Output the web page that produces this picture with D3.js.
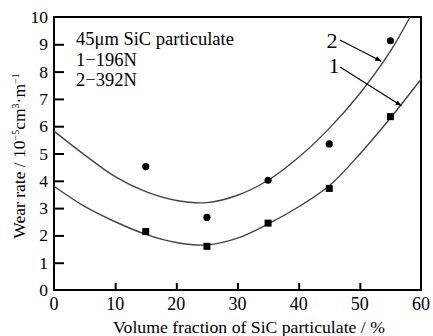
<html>
<head>
<script src="https://d3js.org/d3.v7.min.js"></script>
<style>
body { margin: 0; background: #fff; }
text { font-family: 'Liberation Serif', 'Times New Roman', serif; fill: #000; }
</style>
</head>
<body>
<div id="plot"></div>
<script>
var width = 433, height = 336;

// measured points (x = vol. fraction %, y = wear rate)
var pointX = [15, 25, 35, 45, 55];
var wear196 = [2.14, 1.6, 2.45, 3.72, 6.35];   // curve 1, squares
var wear392 = [4.52, 2.66, 4.02, 5.35, 9.13];  // curve 2, circles

// fitted curves
var fit1X = [0, 5, 10, 15, 20, 25, 30, 35, 40, 45, 50, 55, 60];
var fit1Y = [3.8, 3.06, 2.5, 2.04, 1.74, 1.65, 1.9, 2.42, 3.05, 3.82, 4.98, 6.3, 7.72];
var fit2X = [0, 5, 10, 15, 20, 25, 30, 35, 40, 45, 50, 55, 58.2];
var fit2Y = [5.82, 4.95, 4.15, 3.6, 3.28, 3.2, 3.47, 4.02, 4.86, 5.92, 7.2, 8.75, 10];

var xTicks = [0, 10, 20, 30, 40, 50, 60];
var yTicks = [0, 1, 2, 3, 4, 5, 6, 7, 8, 9, 10];
var infoLines = ["45\u03bcm SiC particulate", "1\u2212196N", "2\u2212392N"];

var svg = d3.select("#plot").append("svg")
.attr("width", width).attr("height", height);

var xScale = d3.scaleLinear().domain([0, 60]).range([54, 421]);
var yScale = d3.scaleLinear().domain([0, 10]).range([290, 17]);

// inner ticks
var xAxis = d3.axisBottom(xScale).tickValues(xTicks.slice(1, -1)).tickSize(-7).tickFormat("");
svg.append("g").attr("transform", "translate(0," + yScale(0) + ")").call(xAxis)
.call(function (g) { g.select(".domain").remove(); })
.selectAll("line").attr("stroke", "#000").attr("stroke-width", 2);

var yAxis = d3.axisLeft(yScale).tickValues(yTicks.slice(1, -1)).tickSize(-10).tickFormat("");
svg.append("g").attr("transform", "translate(" + xScale(0) + ",0)").call(yAxis)
.call(function (g) { g.select(".domain").remove(); })
.selectAll("line").attr("stroke", "#000").attr("stroke-width", 2);

// frame
svg.append("rect")
.attr("x", xScale(0)).attr("y", yScale(10))
.attr("width", xScale(60) - xScale(0)).attr("height", yScale(0) - yScale(10))
.attr("fill", "none").attr("stroke", "#000").attr("stroke-width", 2);

// tick labels
svg.selectAll("text.xl").data(xTicks).enter().append("text")
.attr("class", "xl")
.attr("x", function (d) { return xScale(d); })
.attr("y", 310)
.attr("text-anchor", "middle").style("font-size", "18px")
.text(function (d) { return d; });

svg.selectAll("text.yl").data(yTicks).enter().append("text")
.attr("class", "yl")
.attr("x", 48)
.attr("y", function (d) { return yScale(d) + 6; })
.attr("text-anchor", "end").style("font-size", "17.5px")
.text(function (d) { return d; });

// axis titles
svg.append("text").attr("x", 249).attr("y", 333)
.attr("text-anchor", "middle").style("font-size", "17.7px")
.text("Volume fraction of SiC particulate / %");

var yTitle = svg.append("text")
.attr("transform", "translate(25,156) rotate(-90)")
.attr("text-anchor", "middle").style("font-size", "17.5px");
yTitle.append("tspan").text("Wear rate / 10");
yTitle.append("tspan").attr("dy", -6).style("font-size", "10px").text("\u22125");
yTitle.append("tspan").attr("dy", 6).text("cm");
yTitle.append("tspan").attr("dy", -6).style("font-size", "10px").text("3");
yTitle.append("tspan").attr("dy", 6).text("\u00b7m");
yTitle.append("tspan").attr("dy", -6).style("font-size", "10px").text("\u22121");

// fitted curves
var line = d3.line()
.x(function (d) { return xScale(d[0]); })
.y(function (d) { return yScale(d[1]); })
.curve(d3.curveCatmullRom);

svg.append("path").datum(d3.zip(fit1X, fit1Y))
.attr("d", line).attr("fill", "none").attr("stroke", "#444").attr("stroke-width", 1.4);
svg.append("path").datum(d3.zip(fit2X, fit2Y))
.attr("d", line).attr("fill", "none").attr("stroke", "#444").attr("stroke-width", 1.4);

// points
svg.selectAll("rect.p1").data(d3.zip(pointX, wear196)).enter().append("rect")
.attr("class", "p1")
.attr("x", function (d) { return xScale(d[0]) - 3.5; })
.attr("y", function (d) { return yScale(d[1]) - 3.5; })
.attr("width", 7).attr("height", 7).attr("fill", "#000");

svg.selectAll("circle.p2").data(d3.zip(pointX, wear392)).enter().append("circle")
.attr("class", "p2")
.attr("cx", function (d) { return xScale(d[0]); })
.attr("cy", function (d) { return yScale(d[1]); })
.attr("r", 3.6).attr("fill", "#000");

// info text
svg.selectAll("text.info").data(infoLines).enter().append("text")
.attr("class", "info")
.attr("x", 76)
.attr("y", function (d, i) { return 45 + i * 20.5; })
.style("font-size", "18.5px")
.text(function (d) { return d; });

// curve labels with leader lines
svg.append("defs").append("marker")
.attr("id", "tip").attr("viewBox", "0 0 10 10").attr("refX", 10).attr("refY", 5)
.attr("markerWidth", 5).attr("markerHeight", 5).attr("orient", "auto")
.append("path").attr("d", "M0,1 L10,5 L0,9 Z").attr("fill", "#000");

svg.append("text").attr("x", 332).attr("y", 48).attr("text-anchor", "middle")
.style("font-size", "22px").text("2");
svg.append("text").attr("x", 334).attr("y", 73).attr("text-anchor", "middle")
.style("font-size", "22px").text("1");

svg.append("line").attr("x1", 340).attr("y1", 40).attr("x2", xScale(53.5)).attr("y2", yScale(8.38))
.attr("stroke", "#000").attr("stroke-width", 1.2).attr("marker-end", "url(#tip)");
svg.append("line").attr("x1", 340).attr("y1", 67).attr("x2", xScale(56.8)).attr("y2", yScale(6.75))
.attr("stroke", "#000").attr("stroke-width", 1.2).attr("marker-end", "url(#tip)");
</script>
</body>
</html>
